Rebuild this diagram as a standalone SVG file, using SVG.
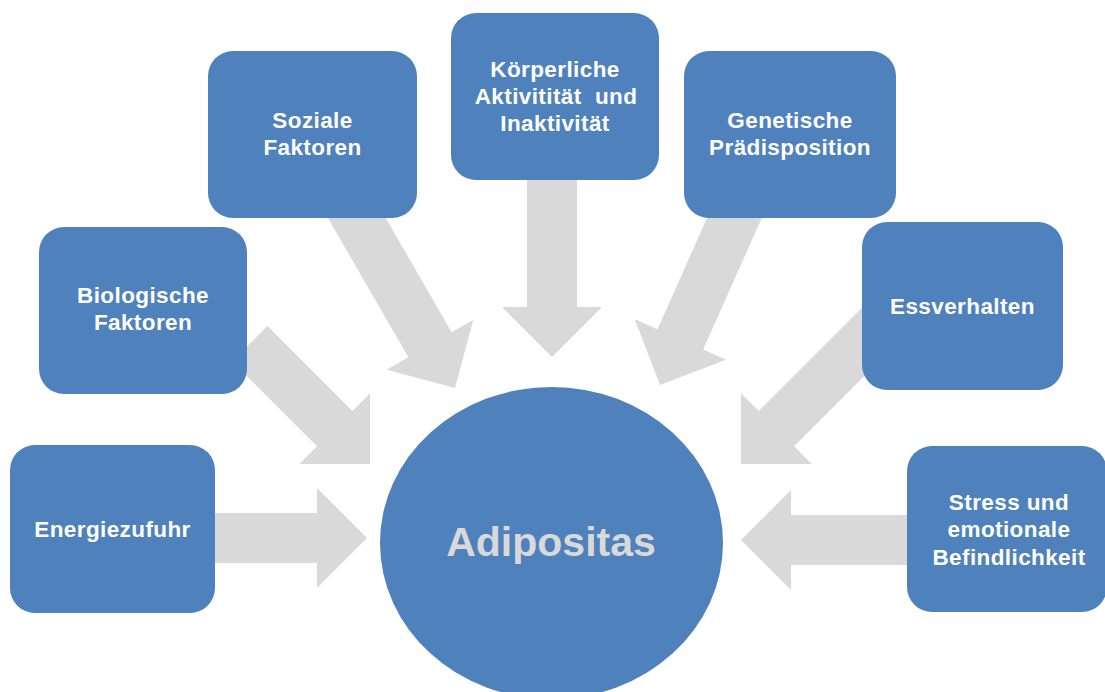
<svg xmlns="http://www.w3.org/2000/svg" width="1105" height="692" viewBox="0 0 1105 692">
<style>
.box{fill:#4F81BD;}
.arr{fill:#D9D9D9;}
.t{font-family:"Liberation Sans",Arial,sans-serif;font-weight:bold;font-size:22.5px;letter-spacing:0.4px;fill:#FFFFFF;text-anchor:middle;}
.big{font-family:"Liberation Sans",Arial,sans-serif;font-weight:bold;font-size:41px;fill:#D9D9D9;text-anchor:middle;}
</style>
<rect width="1105" height="692" fill="#FFFFFF"/>
<g id="connectors">
<polygon class="arr" transform="translate(367,538)" points="-160,-25 -50,-25 -50,-50 0,0 -50,50 -50,25 -160,25"/>
<polygon class="arr" transform="translate(370,464) rotate(45)" points="-170,-25 -50,-25 -50,-50 0,0 -50,50 -50,25 -170,25"/>
<polygon class="arr" transform="translate(455,388) rotate(60)" points="-220,-25 -50,-25 -50,-50 0,0 -50,50 -50,25 -220,25"/>
<polygon class="arr" transform="translate(552,357) rotate(90)" points="-190,-25 -50,-25 -50,-50 0,0 -50,50 -50,25 -190,25"/>
<polygon class="arr" transform="translate(660,385) rotate(114)" points="-200,-25 -50,-25 -50,-50 0,0 -50,50 -50,25 -200,25"/>
<polygon class="arr" transform="translate(741,464) rotate(135)" points="-200,-25 -50,-25 -50,-50 0,0 -50,50 -50,25 -200,25"/>
<polygon class="arr" transform="translate(741,540) rotate(180)" points="-180,-25 -50,-25 -50,-50 0,0 -50,50 -50,25 -180,25"/>
</g>
<g id="energiezufuhr">
<rect class="box" x="10" y="445" width="205" height="168" rx="25"/>
<text class="t" x="112.5" y="537">Energiezufuhr</text>
</g>
<g id="biologische">
<rect class="box" x="39" y="227" width="208" height="167" rx="25"/>
<text class="t" x="143" y="303">Biologische</text>
<text class="t" x="143" y="330">Faktoren</text>
</g>
<g id="soziale">
<rect class="box" x="208" y="51" width="209" height="167" rx="25"/>
<text class="t" x="312.5" y="128">Soziale</text>
<text class="t" x="312.5" y="155">Faktoren</text>
</g>
<g id="koerperliche">
<rect class="box" x="451" y="13" width="208" height="167" rx="25"/>
<text class="t" x="555" y="77">Körperliche</text>
<text class="t" x="556" y="104" xml:space="preserve">Aktivitität  und</text>
<text class="t" x="555" y="131">Inaktivität</text>
</g>
<g id="genetische">
<rect class="box" x="684" y="51" width="212" height="167" rx="25"/>
<text class="t" x="790" y="128">Genetische</text>
<text class="t" x="790" y="155">Prädisposition</text>
</g>
<g id="essverhalten">
<rect class="box" x="862" y="222" width="201" height="168" rx="25"/>
<text class="t" x="962.5" y="314">Essverhalten</text>
</g>
<g id="stress">
<rect class="box" x="907" y="446" width="200" height="166" rx="25"/>
<text class="t" x="1009" y="510">Stress und</text>
<text class="t" x="1009" y="537">emotionale</text>
<text class="t" x="1009" y="565">Befindlichkeit</text>
</g>
<g id="adipositas">
<ellipse class="box" cx="551.5" cy="543" rx="171.5" ry="156"/>
<text class="big" x="551" y="556">Adipositas</text>
</g>
</svg>
